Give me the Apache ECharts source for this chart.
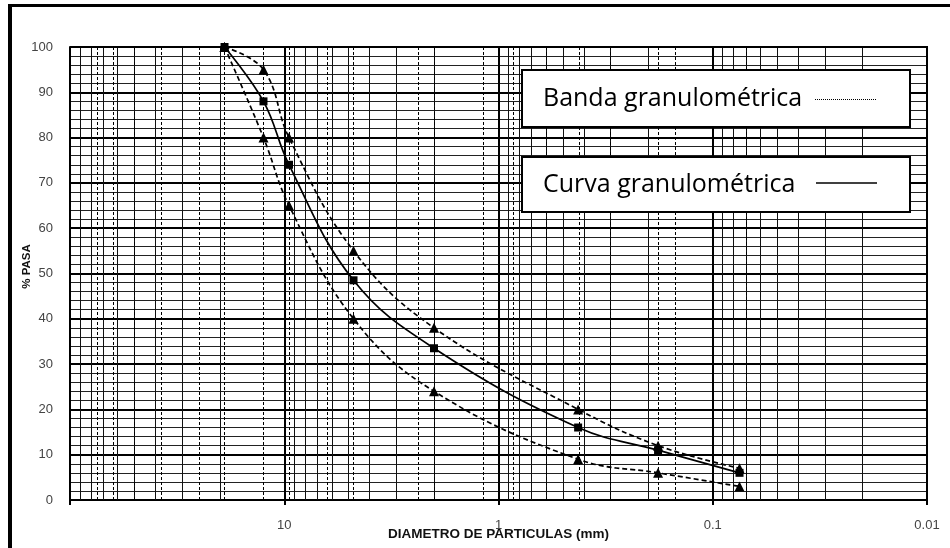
<!DOCTYPE html>
<html>
<head>
<meta charset="utf-8">
<script src="https://cdn.jsdelivr.net/npm/echarts@6/dist/echarts.min.js"></script>
<style>
  html, body { margin: 0; padding: 0; background: #fff; }
  #chart { width: 950px; height: 548px; }
</style>
</head>
<body>
<div id="chart"></div>
<script>
/* curva granulométrica */

// abertura de tamices con punto (mm)
var tamices = [19, 12.5, 9.5, 4.75, 2.0, 0.425, 0.18, 0.075];
// % que pasa
var curva = [100, 88, 74, 48.5, 33.5, 16, 11, 6];
var bandaSup = [100, 95, 80, 55, 38, 20, 12, 7];
var bandaInf = [100, 80, 65, 40, 24, 9, 6, 3];

// lineas punteadas verticales (tamices normalizados, mm)
var lineasTamiz = [75, 63, 50, 37.5, 25, 19, 12.5, 9.5, 6.3, 4.75, 2.36, 2.0, 1.18, 0.85, 0.6, 0.425, 0.3, 0.18, 0.15, 0.074];
// decadas del eje log
var decadas = [0.01, 0.1, 1, 10];
var multiplos = [2, 3, 4, 5, 6, 7, 8, 9];

var fontEje = '"Liberation Sans", Arial, sans-serif';

function pares(ys) {
    var arr = [];
    for (var i = 0; i < tamices.length; i++) {
        arr.push([tamices[i], ys[i]]);
    }
    return arr;
}

// lineas verticales finas 2..9 de cada decada
function lineasLog() {
    var arr = [];
    for (var i = 0; i < decadas.length; i++) {
        for (var j = 0; j < multiplos.length; j++) {
            arr.push({ xAxis: +(decadas[i] * multiplos[j]).toPrecision(3) });
        }
    }
    return arr;
}

var dom = document.getElementById('chart');
var myChart = echarts.init(dom, null, { renderer: 'canvas' });

var option = {
    animation: false,
    backgroundColor: '#fff',
    grid: {
        left: 70,
        right: 23,
        top: 47,
        bottom: 48
    },
    xAxis: {
        type: 'log',
        logBase: 10,
        min: 0.01,
        max: 100,
        inverse: true,
        name: 'DIAMETRO DE PARTICULAS (mm)',
        nameLocation: 'middle',
        nameGap: 27,
        nameMoveOverlap: false,
        nameTextStyle: {
            fontFamily: fontEje,
            fontWeight: 'bold',
            fontSize: 13.5,
            color: '#111'
        },
        axisLine: { show: true, lineStyle: { color: '#000', width: 2 } },
        axisTick: { show: true, length: 5, lineStyle: { color: '#000', width: 2 } },
        axisLabel: {
            margin: 19,
            fontFamily: fontEje,
            fontSize: 13,
            color: '#444',
            formatter: function (v) {
                if (v >= 100) return '';
                return String(v);
            }
        },
        splitLine: { show: true, lineStyle: { color: '#000', width: 2 } }
    },
    yAxis: {
        type: 'value',
        min: 0,
        max: 100,
        interval: 10,
        name: '% PASA',
        nameLocation: 'middle',
        nameGap: 37,
        nameMoveOverlap: false,
        nameTextStyle: {
            fontFamily: fontEje,
            fontWeight: 'bold',
            fontSize: 11.5,
            color: '#111',
            padding: [0, 0, 0, 14]
        },
        axisLine: { show: true, lineStyle: { color: '#000', width: 2 } },
        axisTick: { show: false },
        axisLabel: {
            margin: 17,
            fontFamily: fontEje,
            fontSize: 13,
            color: '#444'
        },
        splitLine: { show: true, lineStyle: { color: '#000', width: 2 } },
        minorTick: { show: false, splitNumber: 5 },
        minorSplitLine: { show: true, lineStyle: { color: '#222', width: 1 } }
    },
    graphic: [
        // marco exterior
        { type: 'rect', shape: { x: 8, y: 4, width: 4, height: 544 }, style: { fill: '#000' } },
        { type: 'rect', shape: { x: 8, y: 4, width: 942, height: 3 }, style: { fill: '#000' } },
        // borde derecho y superior del grafico
        { type: 'rect', shape: { x: 926, y: 47, width: 2, height: 455 }, style: { fill: '#000' }, z: 50 },
        { type: 'rect', shape: { x: 70, y: 46, width: 858, height: 2 }, style: { fill: '#000' }, z: 50 },
        // cuadro 1
        {
            type: 'rect', z: 100,
            shape: { x: 522, y: 70, width: 388, height: 57 },
            style: { fill: '#fff', stroke: '#000', lineWidth: 2 }
        },
        {
            type: 'text', z: 101, x: 543, y: 99,
            style: {
                text: 'Banda granulométrica',
                fontFamily: '"Open Sans", sans-serif',
                fontSize: 25,
                fill: '#000',
                verticalAlign: 'middle'
            }
        },
        {
            type: 'line', z: 101,
            shape: { x1: 815, y1: 99.5, x2: 877, y2: 99.5 },
            style: { stroke: '#000', lineWidth: 1.2, lineDash: [1, 1] }
        },
        // cuadro 2
        {
            type: 'rect', z: 100,
            shape: { x: 522, y: 157, width: 388, height: 55 },
            style: { fill: '#fff', stroke: '#000', lineWidth: 2 }
        },
        {
            type: 'text', z: 101, x: 543, y: 185,
            style: {
                text: 'Curva granulométrica',
                fontFamily: '"Open Sans", sans-serif',
                fontSize: 25,
                fill: '#000',
                verticalAlign: 'middle'
            }
        },
        {
            type: 'line', z: 101,
            shape: { x1: 816, y1: 183, x2: 877, y2: 183 },
            style: { stroke: '#000', lineWidth: 1.6 }
        }
    ],
    series: [
        {
            // rejilla log 2..9
            name: 'rejilla',
            type: 'line',
            data: [],
            z: 1,
            silent: true,
            markLine: {
                silent: true,
                symbol: 'none',
                animation: false,
                label: { show: false },
                lineStyle: { color: '#111', width: 1, type: 'solid' },
                data: lineasLog()
            }
        },
        {
            // lineas punteadas de tamices
            name: 'tamices',
            type: 'line',
            data: [],
            z: 1,
            silent: true,
            markLine: {
                silent: true,
                symbol: 'none',
                animation: false,
                label: { show: false },
                lineStyle: { color: '#000', width: 1, type: [3, 2] },
                data: lineasTamiz.map(function (v) { return { xAxis: v }; })
            }
        },
        {
            name: 'Banda superior',
            type: 'line',
            z: 5,
            smooth: 0.4,
            data: pares(bandaSup),
            symbol: 'triangle',
            symbolSize: 10,
            itemStyle: { color: '#000' },
            lineStyle: { color: '#000', width: 1.7, type: [5, 3] }
        },
        {
            name: 'Banda inferior',
            type: 'line',
            z: 5,
            smooth: 0.4,
            data: pares(bandaInf),
            symbol: 'triangle',
            symbolSize: 10,
            itemStyle: { color: '#000' },
            lineStyle: { color: '#000', width: 1.7, type: [5, 3] }
        },
        {
            name: 'Curva granulométrica',
            type: 'line',
            z: 6,
            smooth: 0.4,
            data: pares(curva),
            symbol: 'rect',
            symbolSize: 8,
            itemStyle: { color: '#000' },
            lineStyle: { color: '#000', width: 1.7 }
        }
    ]
};

myChart.setOption(option);
</script>
</body>
</html>
